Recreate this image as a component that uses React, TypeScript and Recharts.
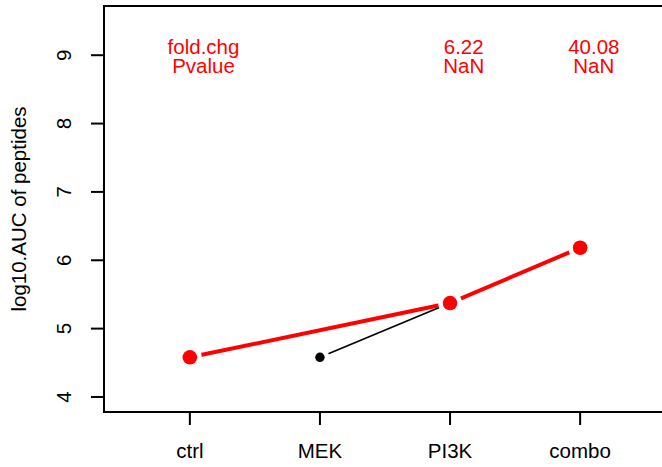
import React from 'react'
import {
  ComposedChart,
  Line,
  XAxis,
  YAxis,
  ReferenceArea,
  ReferenceDot,
} from 'recharts'

const groups = ['ctrl', 'MEK', 'PI3K', 'combo']
const groupX = [1, 2, 3, 4]
// red series: ctrl -> PI3K -> combo (MEK has no value)
const redValues = [4.58, null, 5.374, 6.183]
// black series: MEK -> PI3K
const blackValues = [null, 4.58, 5.374, null]
const yTicks = [4, 5, 6, 7, 8, 9]

const annotX = [1.105, 3.105, 4.105]
const annotFold = ['fold.chg', '6.22', '40.08']
const annotP = ['Pvalue', 'NaN', 'NaN']
const annotY = 9

const FONT = '"Liberation Sans", Arial, sans-serif'
const RED = '#ff0000'

const data = groupX.map((x, i) => ({
  x,
  red: redValues[i],
  black: blackValues[i],
}))

function makeDot(color: string, r: number) {
  return (props: any) => {
    const { cx, cy, value, index } = props
    if (value == null || cx == null || cy == null) return <g key={`d${index}`} />
    return (
      <g key={`d${index}`}>
        <circle cx={cx} cy={cy} r={r + 4.6} fill="#ffffff" />
        <circle cx={cx} cy={cy} r={r} fill={color} />
      </g>
    )
  }
}

function XTick({ x, y, payload }: any) {
  return (
    <text x={x} y={y + 31} textAnchor="middle" fontSize={20.5} fontFamily={FONT} fill="#000">
      {groups[groupX.indexOf(payload.value)]}
    </text>
  )
}

function YTick({ x, y, payload }: any) {
  const tx = x - 17.5
  return (
    <text
      x={tx}
      y={y}
      transform={`rotate(-90, ${tx}, ${y})`}
      textAnchor="middle"
      fontSize={20.5}
      fontFamily={FONT}
      fill="#000"
    >
      {payload.value}
    </text>
  )
}

export default function App() {
  return (
    <div
      style={{
        position: 'absolute',
        left: 0,
        top: 0,
        width: 662,
        height: 467,
        overflow: 'hidden',
        background: '#fff',
      }}
    >
      <ComposedChart
        width={680}
        height={467}
        data={data}
        margin={{ top: 6, right: 14, left: 0, bottom: 0 }}
      >
        <XAxis
          dataKey="x"
          type="number"
          domain={[0.34, 4.66]}
          ticks={groupX}
          allowDataOverflow
          height={55}
          axisLine={false}
          tickSize={13}
          tickLine={{ stroke: '#000', strokeWidth: 2 }}
          tick={<XTick />}
        />
        <YAxis
          type="number"
          domain={[3.78, 9.72]}
          ticks={yTicks}
          allowDataOverflow
          width={104}
          axisLine={false}
          tickSize={13}
          tickLine={{ stroke: '#000', strokeWidth: 2 }}
          tick={<YTick />}
        />
        <ReferenceArea
          x1={0.34}
          x2={4.66}
          y1={3.78}
          y2={9.72}
          fill="none"
          fillOpacity={0}
          stroke="#000"
          strokeWidth={2}
        />
        <Line
          dataKey="black"
          stroke="#000"
          strokeWidth={1.7}
          connectNulls={false}
          dot={makeDot('#000', 4.7)}
          activeDot={false}
          isAnimationActive={false}
        />
        <Line
          dataKey="red"
          stroke={RED}
          strokeWidth={4}
          connectNulls
          dot={makeDot(RED, 7.3)}
          activeDot={false}
          isAnimationActive={false}
        />
        {annotX.map((ax, i) => (
          <ReferenceDot
            key={`a${i}`}
            x={ax}
            y={annotY}
            r={0}
            shape={(p: any) => (
              <text x={p.cx} y={p.cy - 1.5} textAnchor="middle" fontSize={20.5} fontFamily={FONT} fill={RED}>
                <tspan x={p.cx}>{annotFold[i]}</tspan>
                <tspan x={p.cx} dy={18.8}>{annotP[i]}</tspan>
              </text>
            )}
          />
        ))}
        <text
          x={26}
          y={209}
          transform="rotate(-90, 26, 209)"
          textAnchor="middle"
          fontSize={20.5}
          fontFamily={FONT}
          fill="#000"
        >
          log10.AUC of peptides
        </text>
      </ComposedChart>
    </div>
  )
}
